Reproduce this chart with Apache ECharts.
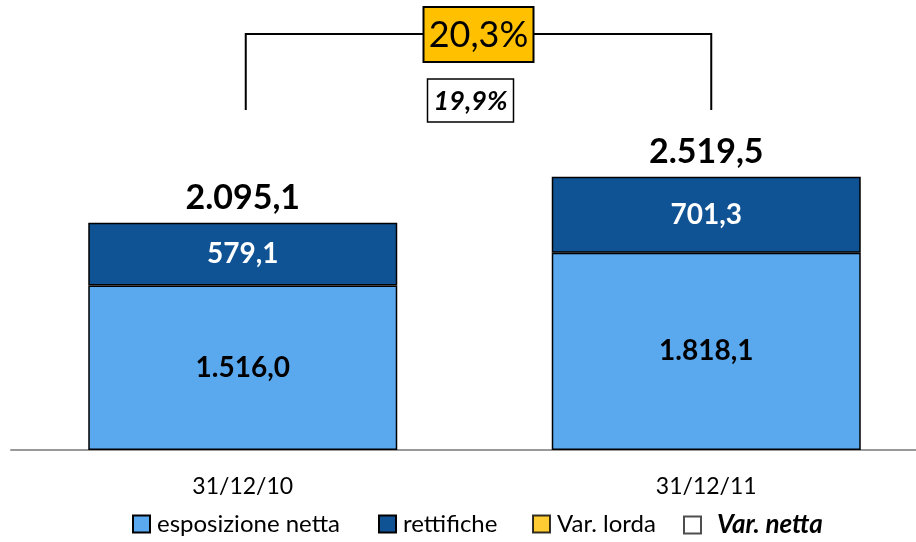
<!DOCTYPE html>
<html>
<head>
<meta charset="utf-8">
<script src="https://cdn.jsdelivr.net/npm/echarts@6/dist/echarts.min.js"></script>
<style>
  html, body { margin: 0; padding: 0; background: #fff; }
  #chart { width: 916px; height: 542px; }
</style>
</head>
<body>
<div id="chart"></div>
<script>
// data
const categories = ["31/12/10", "31/12/11"];
const esposizioneNetta = [1516.0, 1818.1];
const rettifiche = [579.1, 701.3];
const totali = [2095.1, 2519.5];
const varLorda = "20,3%";
const varNetta = "19,9%";
const legendNames = ["esposizione netta", "rettifiche", "Var. lorda", "Var. netta"];

const FONT = "Lato, 'Open Sans', sans-serif";

// italian number format: 2.095,1
function fmt(v) {
    const parts = v.toFixed(1).split(".");
    parts[0] = parts[0].replace(/\B(?=(\d{3})+(?!\d))/g, ".");
    return parts.join(",");
}

// one legend per item so each sits where it does in the original
const legendLeft = [127, 373, 527, 678];
const legends = legendNames.map((name, i) => ({
    top: 507,
    left: legendLeft[i],
    icon: "rect",
    itemWidth: 17,
    itemHeight: 17,
    data: [name],
    textStyle: i === 3
        ? { fontSize: 26, fontWeight: "bold", fontStyle: "italic", color: "#000", fontFamily: FONT, padding: [0, 0, 0, 11] }
        : { fontSize: 24, color: "#000", fontFamily: FONT, padding: [0, 0, 0, 2] },
}));

const chart = echarts.init(document.getElementById("chart"));

const options = {
    animation: false,
    textStyle: { fontFamily: FONT },
    grid: { left: 11, top: 0, width: 927, height: 450, outerBoundsMode: "none", containLabel: false },
    legend: legends,
    xAxis: {
        type: "category",
        data: categories,
        axisLine: { lineStyle: { color: "#999", width: 2 } },
        axisTick: { show: false },
        axisLabel: { color: "#000", fontSize: 23, margin: 25, fontFamily: FONT },
    },
    yAxis: {
        type: "value",
        min: 0,
        max: 4150,
        show: false,
        splitLine: { show: false },
    },
    series: [
        {
            name: "esposizione netta",
            type: "bar",
            stack: "tot",
            barWidth: 309,
            data: esposizioneNetta,
            itemStyle: { color: "#5AA9EF", borderColor: "#000", borderWidth: 1.5 },
            label: {
                show: true,
                position: "inside",
                color: "#000",
                fontWeight: "bold",
                fontSize: 28,
                formatter: (p) => fmt(p.value),
            },
        },
        {
            name: "rettifiche",
            type: "bar",
            stack: "tot",
            barWidth: 309,
            data: rettifiche,
            itemStyle: { color: "#0F5395", borderColor: "#000", borderWidth: 1.5 },
            label: {
                show: true,
                position: "inside",
                color: "#fff",
                fontWeight: "bold",
                fontSize: 28,
                formatter: (p) => fmt(p.value),
            },
        },
        {
            name: "totale",
            type: "bar",
            barWidth: 309,
            barGap: "-100%",
            data: totali,
            z: 1,
            itemStyle: { color: "rgba(0,0,0,0)" },
            label: {
                show: true,
                position: "top",
                distance: 8,
                color: "#000",
                fontWeight: "bold",
                fontSize: 34,
                formatter: (p) => fmt(p.value),
            },
        },
        {
            name: "Var. lorda",
            type: "scatter",
            data: [],
            itemStyle: { color: "#FFC000", borderColor: "#000", borderWidth: 1.5 },
        },
        {
            name: "Var. netta",
            type: "scatter",
            data: [],
            itemStyle: { color: "#fff", borderColor: "#222", borderWidth: 1.5 },
        },
    ],
};

chart.setOption(options);

// bracket annotation over the two bars
const x1 = chart.convertToPixel({ xAxisIndex: 0 }, categories[0]) + 3;
const x2 = chart.convertToPixel({ xAxisIndex: 0 }, categories[1]) + 5;
const mid = (x1 + x2) / 2;
const lineY = 34, lineBottom = 110;
const boxW = 110, boxH = 55, boxTop = 7;

chart.setOption({
    graphic: [
        {
            type: "polyline",
            shape: { points: [[x1, lineBottom], [x1, lineY], [mid, lineY]] },
            style: { stroke: "#000", lineWidth: 2, fill: null },
        },
        {
            type: "polyline",
            shape: { points: [[mid, lineY], [x2, lineY], [x2, lineBottom]] },
            style: { stroke: "#000", lineWidth: 2, fill: null },
        },
        {
            type: "rect",
            shape: { x: mid - boxW / 2, y: boxTop, width: boxW, height: boxH },
            style: { fill: "#FFC000", stroke: "#000", lineWidth: 2 },
            z: 10,
        },
        {
            type: "text",
            x: mid,
            y: boxTop + boxH / 2 + 1,
            z: 11,
            style: {
                text: varLorda,
                fontSize: 36,
                fontFamily: FONT,
                fill: "#000",
                align: "center",
                verticalAlign: "middle",
            },
        },
        {
            type: "rect",
            shape: { x: mid - 51, y: 79, width: 86, height: 43 },
            style: { fill: "#fff", stroke: "#000", lineWidth: 1.5 },
            z: 10,
        },
        {
            type: "text",
            x: mid - 8,
            y: 101,
            z: 11,
            style: {
                text: varNetta,
                fontSize: 27,
                fontWeight: "bold",
                fontStyle: "italic",
                fontFamily: FONT,
                fill: "#000",
                align: "center",
                verticalAlign: "middle",
            },
        },
    ],
});

window.addEventListener("resize", () => {
    chart.resize();
});
</script>
</body>
</html>
